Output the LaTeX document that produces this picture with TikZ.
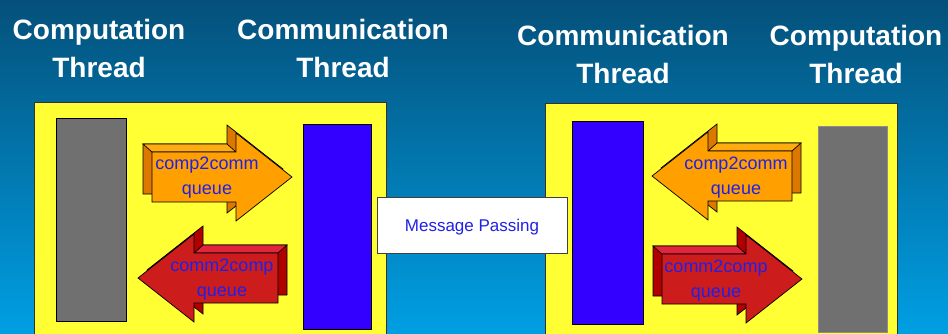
\documentclass[tikz,border=0pt]{standalone}
\usepackage{fontspec}
\setmainfont{Liberation Sans}
\usetikzlibrary{positioning}
\definecolor{bgtop}{HTML}{04507A}
\definecolor{bgbot}{HTML}{009FE3}
\definecolor{padyellow}{HTML}{FFFF33}
\definecolor{barblue}{HTML}{3300FF}
\definecolor{bargray}{HTML}{707070}
\definecolor{qorange}{HTML}{FFA000}
\definecolor{qorangeside}{HTML}{DC7800}
\definecolor{qorangetop}{HTML}{FFAC10}
\definecolor{qred}{HTML}{CC1C1C}
\definecolor{qredside}{HTML}{B00000}
\definecolor{qredtop}{HTML}{E2243C}
\definecolor{qtext}{HTML}{2020E8}

\tikzset{
  title/.style={text=white,font=\fontsize{28}{38}\selectfont\bfseries,align=center},
  pad/.style={draw=black!80,fill=padyellow,line width=0.8pt},
  bar/.style={draw=black,line width=0.8pt,inner sep=0pt},
  qedge/.style={draw=black,line width=0.7pt,line join=miter},
  qlabel/.style={text=qtext,font=\fontsize{18}{25}\selectfont,align=center},
}

% 3D block arrow: #1,#2 tail centre, #3 = 1 (right) or -1 (left), #4 front, #5 side, #6 top
\newcommand{\queuearrow}[6]{%
  \begin{scope}[shift={(#1,#2)},xscale=#3]
    \filldraw[qedge,fill=#5,shift={(-9,-8)}] (0,-25) -- (84,-25) -- (84,-44) -- (140,0)
      -- (84,44) -- (84,25) -- (0,25) -- cycle;
    \filldraw[qedge,fill=#6] (0,-25) -- (84,-25) -- (75,-33) -- (-9,-33) -- cycle;
    \filldraw[qedge,fill=#4] (0,-25) -- (84,-25) -- (84,-44) -- (140,0)
      -- (84,44) -- (84,25) -- (0,25) -- cycle;
  \end{scope}}

\begin{document}
\begin{tikzpicture}[x=1pt,y=-1pt]
  \shade[top color=bgtop,bottom color=bgbot] (0,0) rectangle (948,333);
  \useasboundingbox (0,0) rectangle (948,333);
  \clip (0,0) rectangle (948,333);

  % titles
  \node[title] (compL) at (99,48) {Computation\\Thread};
  \node[title] (commL) at (343,48) {Communication\\Thread};
  \node[title] (commR) at (623,54) {Communication\\Thread};
  \node[title] (compR) at (856,54) {Computation\\Thread};

  % the two processes
  \draw[pad] (34,102) rectangle (386,345);
  \draw[pad] (545,103) rectangle (897,345);

  \node[bar,fill=bargray,minimum width=70pt,minimum height=203pt] (workL) at (91,219.5) {};
  \node[bar,fill=barblue,minimum width=68pt,minimum height=205pt] (netL) at (337,226.5) {};
  \node[bar,fill=barblue,minimum width=71pt,minimum height=203pt] (netR) at (607.5,222.5) {};
  \node[bar,draw=black!45,fill=bargray,minimum width=69pt,minimum height=206pt] (workR) at (852.5,229) {};

  % queues
  \queuearrow{152}{177}{1}{qorange}{qorangeside}{qorangetop}
  \queuearrow{278}{278}{-1}{qred}{qredside}{qredtop}
  \queuearrow{792}{176}{-1}{qorange}{qorangeside}{qorangetop}
  \queuearrow{662}{279}{1}{qred}{qredside}{qredtop}

  \node[qlabel] (c2cL) at (207,177.5) {comp2comm\\queue};
  \node[qlabel] (m2cL) at (222,280) {comm2comp\\queue};
  \node[qlabel] (c2cR) at (736,178) {comp2comm\\queue};
  \node[qlabel] (m2cR) at (716,281) {comm2comp\\queue};

  % link between the two sides
  \node[draw=black!75,fill=white,line width=0.8pt,minimum width=190pt,minimum height=56pt,
        text depth=0pt,text=qtext,font=\fontsize{17}{20}\selectfont] (msg) at (472,225) {Message Passing};
\end{tikzpicture}
\end{document}
